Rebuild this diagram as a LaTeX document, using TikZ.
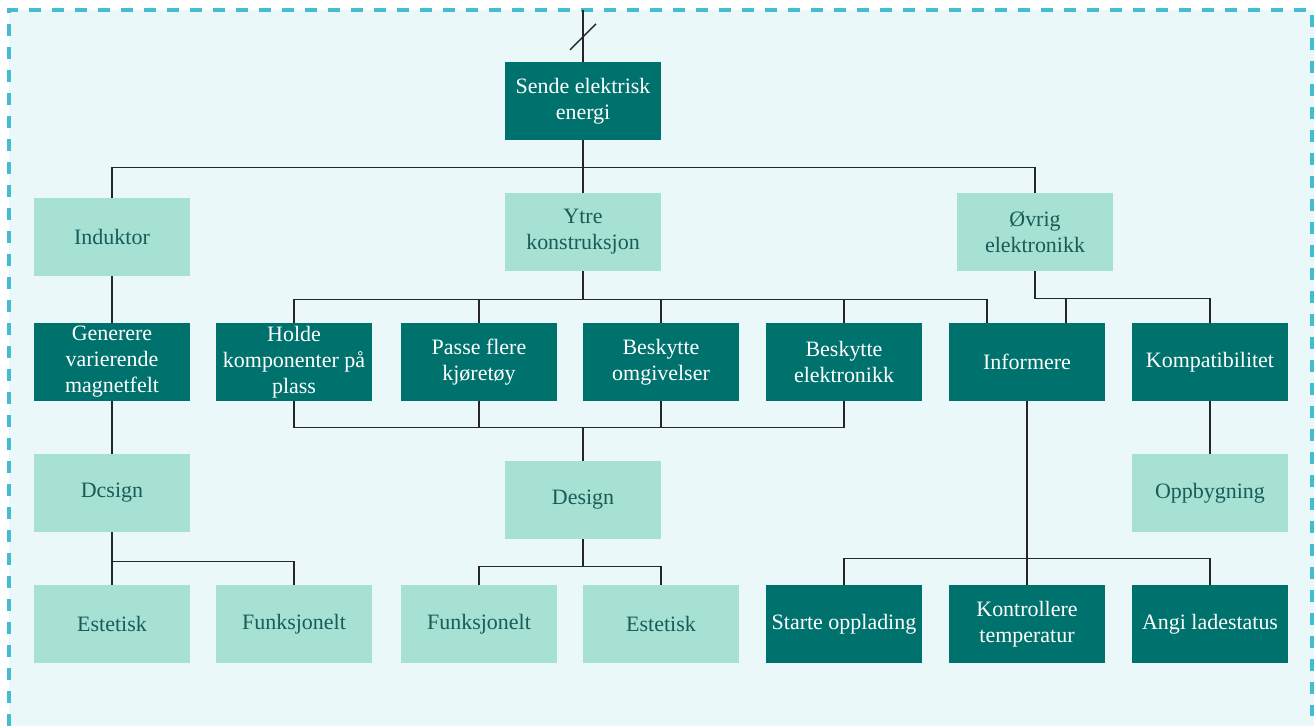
\documentclass[tikz,border=0pt]{standalone}
\usepackage{fontspec}
\setmainfont{Liberation Serif}
\usepackage{tikz}
\usetikzlibrary{calc}
\definecolor{cDark}{RGB}{0,114,110}
\definecolor{cLight}{RGB}{166,225,212}
\definecolor{cInk}{RGB}{24,92,88}
\definecolor{cBack}{RGB}{235,248,249}
\definecolor{cFrame}{RGB}{70,188,208}

\tikzset{
  box/.style={minimum width=3.12cm,minimum height=1.56cm,inner sep=1pt,
    align=center,font=\fontsize{12.5}{14.8}\selectfont},
  dark/.style={box,fill=cDark,text=white},
  light/.style={box,fill=cLight,text=cInk},
  link/.style={draw=black!85,line width=0.8pt},
}

\begin{document}
\begin{tikzpicture}[x=0.02cm,y=-0.02cm]
 \useasboundingbox (0,0) rectangle (1314,726);
 % ---- background and frame ----
 \fill[cBack] (9,10) rectangle (1314,726);
 \draw[cFrame,line width=2.3pt,dash pattern=on 0.24cm off 0.22cm]
   (9,726) -- (9,10) -- (1312,10) -- (1312,726);

 % ---- top ----
 \node[dark] (sende) at (583,101) {Sende elektrisk\\energi};
 \coordinate (feed) at (583,10);
 % ---- level 2 ----
 \node[light] (induktor) at (112,237) {Induktor};
 \node[light] (ytre) at (583,232) {Ytre\\konstruksjon};
 \node[light] (ovrig) at (1035,232) {Øvrig\\elektronikk};
 % ---- level 3 ----
 \node[dark] (generere) at (112,362) {Generere\\varierende\\magnetfelt};
 \node[dark] (holde) at (294,362) {Holde\\komponenter på\\plass};
 \node[dark] (passe) at (479,362) {Passe flere\\kjøretøy};
 \node[dark] (beskomg) at (661,362) {Beskytte\\omgivelser};
 \node[dark] (beskel) at (844,362) {Beskytte\\elektronikk};
 \node[dark] (informere) at (1027,362) {Informere};
 \node[dark] (kompat) at (1210,362) {Kompatibilitet};
 % ---- level 4 ----
 \node[light] (dcsign) at (112,493) {Dcsign};
 \node[light] (design) at (583,500) {Design};
 \node[light] (oppbygning) at (1210,493) {Oppbygning};
 % ---- level 5 ----
 \node[light] (estetiskA) at (112,624) {Estetisk};
 \node[light] (funksjA) at (294,624) {Funksjonelt};
 \node[light] (funksjB) at (479,624) {Funksjonelt};
 \node[light] (estetiskB) at (661,624) {Estetisk};
 \node[dark] (starte) at (844,624) {Starte opplading};
 \node[dark] (kontroll) at (1027,624) {Kontrollere\\temperatur};
 \node[dark] (angi) at (1210,624) {Angi ladestatus};

 % ---- connectors ----
 \draw[link] (feed) -- (sende.north);
 \path (feed) -- (sende.north) coordinate[pos=.52] (cut);
 \draw[link] (cut) ++(-13,13) -- ++(26,-26);

 \draw[link] (sende.south) -- (ytre.north);
 \draw[link] (sende.south) -- ++(0,27) -| (induktor.north);
 \draw[link] (sende.south) -- ++(0,27) -| (ovrig.north);

 \draw[link] (induktor.south) -- (generere.north);
 \foreach \n in {holde,passe,beskomg,beskel}
   \draw[link] (ytre.south) -- ++(0,28) -| (\n.north);
 \draw[link] (ytre.south) -- ++(0,28) -| ($(informere.north)+(-40,0)$);
 \draw[link] (ovrig.south) -- ++(0,27) -| ($(informere.north)+(39,0)$);
 \draw[link] (ovrig.south) -- ++(0,27) -| (kompat.north);

 \draw[link] (design.north) -- ++(0,-33) coordinate (join);
 \foreach \n in {holde,passe,beskomg,beskel}
   \draw[link] (\n.south) |- (join);

 \draw[link] (generere.south) -- (dcsign.north);
 \draw[link] (dcsign.south) -- (estetiskA.north);
 \draw[link] (dcsign.south) -- ++(0,29) -| (funksjA.north);

 \draw[link] (design.south) -- ++(0,27) -| (funksjB.north);
 \draw[link] (design.south) -- ++(0,27) -| (estetiskB.north);

 \draw[link] (informere.south) -- (kontroll.north);
 \draw[link] (informere.south) -- ++(0,157) -| (starte.north);
 \draw[link] (informere.south) -- ++(0,157) -| (angi.north);

 \draw[link] (kompat.south) -- (oppbygning.north);
\end{tikzpicture}
\end{document}
